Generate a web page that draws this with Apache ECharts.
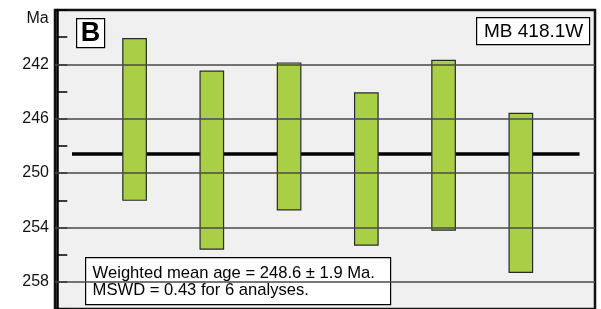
<!DOCTYPE html>
<html><head><meta charset="utf-8">
<script src="https://cdn.jsdelivr.net/npm/echarts@6/dist/echarts.min.js"></script>
<style>html,body{margin:0;padding:0;background:#fff}#c{width:601px;height:309px}</style>
</head><body><div id="c"></div>
<script>
const analyses = [1, 2, 3, 4, 5, 6];
const ageTop = [240.1, 242.5, 241.9, 244.1, 241.7, 245.6];
const ageBottom = [252.0, 255.6, 252.7, 255.3, 254.2, 257.3];
const meanAge = 248.6;
const meanSpan = [0.19, 6.76];
const gridTicks = [242, 246, 250, 254, 258];
const sampleLabel = 'MB 418.1W';
const panelLabel = 'B';
const resultLines = ['Weighted mean age = 248.6 ± 1.9 Ma.', 'MSWD = 0.43 for 6 analyses.'];
const FONT = 'Liberation Sans, Arial, sans-serif';

const chart = echarts.init(document.getElementById('c'));
chart.setOption({
  animation: false,
  grid: { left: 55, top: 10, width: 540, height: 300, show: true, backgroundColor: '#f0f0f0', borderColor: '#111', borderWidth: 2.5 },
  xAxis: { type: 'value', min: -0.03, max: 6.96, show: false },
  yAxis: {
    type: 'value', inverse: true, min: 238, max: 260, interval: 2,
    axisLine: { show: true, lineStyle: { color: '#000', width: 2.5 } },
    axisTick: { show: true, inside: true, length: 10, lineStyle: { color: '#000', width: 1.5 } },
    splitLine: { show: false },
    axisLabel: { fontFamily: FONT, fontSize: 16, color: '#111', margin: 6,
      formatter: v => (v >= 242 && (v - 242) % 4 === 0) ? String(v) : '' }
  },
  series: [
    {
      type: 'line', z: 2, symbol: 'none', silent: true,
      data: meanSpan.map(x => [x, meanAge]),
      lineStyle: { color: '#000', width: 3.5 },
      markLine: { silent: true, symbol: 'none', label: { show: false },
        lineStyle: { color: '#4a4a4a', width: 1.5, type: 'solid' },
        data: gridTicks.map(v => ({ yAxis: v })) }
    },
    {
      type: 'custom', z: 3,
      data: analyses.map((a, i) => [a, ageTop[i], ageBottom[i]]),
      renderItem: (params, api) => {
        const p1 = api.coord([api.value(0), api.value(1)]);
        const p2 = api.coord([api.value(0), api.value(2)]);
        const w = 23.5;
        return { type: 'rect', shape: { x: p1[0] - w / 2, y: Math.min(p1[1], p2[1]), width: w, height: Math.abs(p2[1] - p1[1]) },
          style: { fill: '#a8cf45', stroke: '#2a2a2a', lineWidth: 1.2 } };
      }
    }
  ],
  graphic: [
    { type: 'text', x: 37.5, y: 18.5, style: { text: 'Ma', font: '16px ' + FONT, fill: '#111', align: 'center', verticalAlign: 'middle' } },
    { type: 'group', left: 76, top: 18, children: [
      { type: 'rect', shape: { x: 0, y: 0, width: 28, height: 29 }, style: { fill: '#fff', stroke: '#000', lineWidth: 1.2 } },
      { type: 'text', x: 14, y: 15, style: { text: panelLabel, font: 'bold 27px ' + FONT, fill: '#000', align: 'center', verticalAlign: 'middle' } }
    ]},
    { type: 'group', left: 476, top: 17, children: [
      { type: 'rect', shape: { x: 0, y: 0, width: 113, height: 27 }, style: { fill: '#fff', stroke: '#000', lineWidth: 1.2 } },
      { type: 'text', x: 57, y: 14.5, style: { text: sampleLabel, font: '19px ' + FONT, fill: '#000', align: 'center', verticalAlign: 'middle' } }
    ]},
    { type: 'group', left: 85, top: 257, children: [
      { type: 'rect', shape: { x: 0, y: 0, width: 305, height: 47 }, style: { fill: '#fff', stroke: '#000', lineWidth: 1.2 } },
      { type: 'text', x: 7, y: 16, style: { text: resultLines[0], font: '16.6px ' + FONT, fill: '#000', verticalAlign: 'middle' } },
      { type: 'text', x: 7, y: 33, style: { text: resultLines[1], font: '16.6px ' + FONT, fill: '#000', verticalAlign: 'middle' } }
    ]}
  ]
});
</script></body></html>
